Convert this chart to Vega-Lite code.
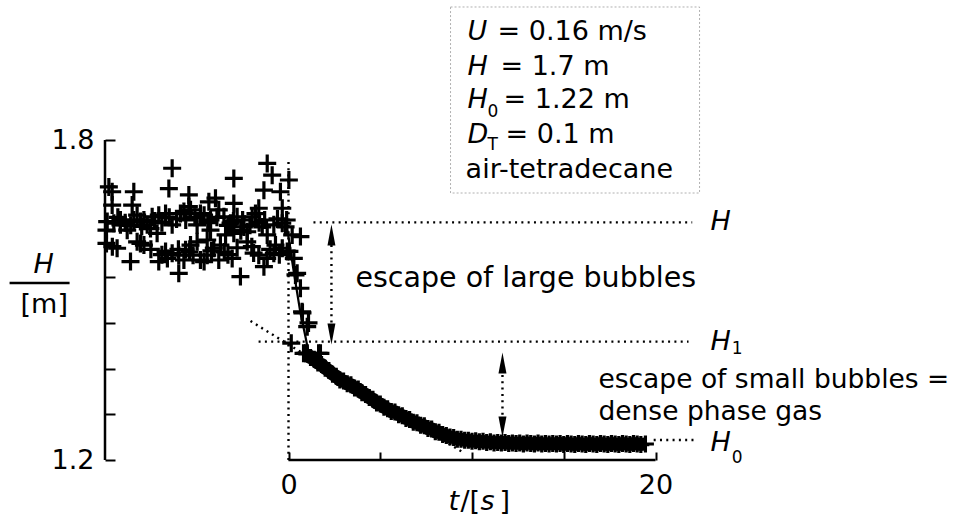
{
  "$schema": "https://vega.github.io/schema/vega-lite/v6.json",
  "width": 871,
  "height": 460,
  "autosize": {"type": "none"},
  "padding": {"left": 105, "top": 0, "right": 0, "bottom": 55},
  "background": "white",
  "config": {"view": {"stroke": null}},
  "datasets": {
    "box": [{"t": 8.83, "t2": 22.4, "h": 2.0494, "h2": 1.7006}],
    "dotted": [
      {"t": 1.36, "t2": 22.0, "h": 1.6456, "h2": 1.6456},
      {"t": -1.63, "t2": 21.8, "h": 1.4219, "h2": 1.4219},
      {"t": 19.9, "t2": 22.3, "h": 1.2375, "h2": 1.2375},
      {"t": 0, "t2": 0, "h": 1.2, "h2": 1.766},
      {"t": -2.07, "t2": 9.48, "h": 1.4606, "h2": 1.215},
      {"t": 2.34, "t2": 2.34, "h": 1.6031, "h2": 1.4563},
      {"t": 11.66, "t2": 11.66, "h": 1.3594, "h2": 1.275}
    ],
    "solid": [
      {"t": -10, "t2": -10, "h": 1.2, "h2": 1.8},
      {"t": 0, "t2": 20, "h": 1.2, "h2": 1.2},
      {"t": -15.2, "t2": -11.93, "h": 1.5319, "h2": 1.5319}
    ],
    "scatter": [
      {"t": -6.34, "h": 1.747}, {"t": -2.98, "h": 1.728}, {"t": -1.16, "h": 1.756}, {"t": -0.89, "h": 1.734},
      {"t": 0.02, "h": 1.725}, {"t": -6.52, "h": 1.709}, {"t": -8.43, "h": 1.703}, {"t": -1.34, "h": 1.706},
      {"t": -0.44, "h": 1.703}, {"t": -5.43, "h": 1.697}, {"t": -9.79, "h": 1.712}, {"t": -9.61, "h": 1.703},
      {"t": -3.98, "h": 1.691}, {"t": -9.61, "h": 1.678}, {"t": -8.52, "h": 1.678}, {"t": -2.98, "h": 1.681},
      {"t": -4.34, "h": 1.684}, {"t": -0.34, "h": 1.672}, {"t": -5.43, "h": 1.675}, {"t": -1.62, "h": 1.672},
      {"t": -5.70, "h": 1.666},
      {"t": -9.52, "h": 1.644}, {"t": -9.16, "h": 1.641}, {"t": -8.79, "h": 1.631}, {"t": -8.25, "h": 1.659},
      {"t": -8.07, "h": 1.647}, {"t": -7.70, "h": 1.641}, {"t": -7.43, "h": 1.656}, {"t": -7.07, "h": 1.659},
      {"t": -6.70, "h": 1.662}, {"t": -7.52, "h": 1.634}, {"t": -7.16, "h": 1.625}, {"t": -6.34, "h": 1.641},
      {"t": -5.89, "h": 1.662}, {"t": -4.98, "h": 1.641}, {"t": -4.80, "h": 1.662}, {"t": -4.25, "h": 1.650},
      {"t": -3.80, "h": 1.669}, {"t": -3.52, "h": 1.656}, {"t": -3.16, "h": 1.644}, {"t": -2.80, "h": 1.656},
      {"t": -2.43, "h": 1.637}, {"t": -1.98, "h": 1.656}, {"t": -1.80, "h": 1.662}, {"t": -2.25, "h": 1.628},
      {"t": -2.98, "h": 1.625}, {"t": -3.43, "h": 1.622}, {"t": -1.43, "h": 1.637}, {"t": -1.16, "h": 1.622},
      {"t": -0.80, "h": 1.641}, {"t": -0.34, "h": 1.644}, {"t": -0.16, "h": 1.637}, {"t": -9.92, "h": 1.631},
      {"t": -9.88, "h": 1.647}, {"t": -9.16, "h": 1.650}, {"t": -8.43, "h": 1.650}, {"t": -7.88, "h": 1.650},
      {"t": -5.34, "h": 1.669}, {"t": -4.6, "h": 1.659}, {"t": -2.5, "h": 1.650}, {"t": -4.25, "h": 1.631},
      {"t": -6.9, "h": 1.645}, {"t": -6.1, "h": 1.652}, {"t": -3.3, "h": 1.640}, {"t": -1.6, "h": 1.645},
      {"t": -8.6, "h": 1.640},
      {"t": -9.3, "h": 1.655}, {"t": -8.9, "h": 1.645}, {"t": -8.0, "h": 1.638}, {"t": -7.3, "h": 1.648},
      {"t": -6.5, "h": 1.655}, {"t": -5.6, "h": 1.650}, {"t": -5.1, "h": 1.655}, {"t": -4.4, "h": 1.645},
      {"t": -3.9, "h": 1.655}, {"t": -3.0, "h": 1.648}, {"t": -2.6, "h": 1.630}, {"t": -2.1, "h": 1.640},
      {"t": -1.3, "h": 1.650}, {"t": -0.6, "h": 1.652}, {"t": -0.1, "h": 1.650},
      {"t": -9.92, "h": 1.606}, {"t": -9.34, "h": 1.597}, {"t": -8.61, "h": 1.572}, {"t": -8.25, "h": 1.609},
      {"t": -7.88, "h": 1.603}, {"t": -7.07, "h": 1.572}, {"t": -6.70, "h": 1.591}, {"t": -6.34, "h": 1.5875},
      {"t": -5.98, "h": 1.584}, {"t": -5.98, "h": 1.55}, {"t": -5.61, "h": 1.594}, {"t": -5.34, "h": 1.603},
      {"t": -4.98, "h": 1.609}, {"t": -4.80, "h": 1.575}, {"t": -4.43, "h": 1.584}, {"t": -4.43, "h": 1.6125},
      {"t": -4.07, "h": 1.597}, {"t": -3.80, "h": 1.575}, {"t": -3.71, "h": 1.603}, {"t": -3.07, "h": 1.578},
      {"t": -2.62, "h": 1.544}, {"t": -2.25, "h": 1.609}, {"t": -1.62, "h": 1.584}, {"t": -1.34, "h": 1.5625},
      {"t": -1.16, "h": 1.578}, {"t": -0.80, "h": 1.5875}, {"t": -0.71, "h": 1.603}, {"t": -0.34, "h": 1.597},
      {"t": -0.07, "h": 1.591}, {"t": -6.6, "h": 1.578}, {"t": -5.7, "h": 1.575}, {"t": -5.2, "h": 1.584},
      {"t": -4.6, "h": 1.572}, {"t": -8.07, "h": 1.606}, {"t": -3.5, "h": 1.590}, {"t": -2.0, "h": 1.600},
      {"t": -9.6, "h": 1.600}, {"t": -7.5, "h": 1.595}, {"t": -6.9, "h": 1.585}, {"t": -6.0, "h": 1.595},
      {"t": -5.4, "h": 1.590}, {"t": -4.2, "h": 1.592}, {"t": -3.3, "h": 1.585}, {"t": -2.8, "h": 1.598},
      {"t": -1.9, "h": 1.588}, {"t": -1.0, "h": 1.595}, {"t": -0.5, "h": 1.585},
      {"t": 0.20, "h": 1.622}, {"t": 0.65, "h": 1.619}, {"t": 0.05, "h": 1.591}, {"t": 0.29, "h": 1.578},
      {"t": 0.47, "h": 1.55}, {"t": 0.65, "h": 1.522}, {"t": 0.74, "h": 1.478}, {"t": 1.02, "h": 1.45},
      {"t": 1.02, "h": 1.40}, {"t": 0.15, "h": 1.419}, {"t": 0.38, "h": 1.547}, {"t": 1.09, "h": 1.457},
      {"t": 0.93, "h": 1.40}, {"t": 1.64, "h": 1.40}, {"t": 0.76, "h": 1.476}, {"t": 1.74, "h": 1.40},
      {"t": 0.82, "h": 1.40}
    ],
    "band": [
      {"t": 1.0, "h": 1.399}, {"t": 1.2, "h": 1.392}, {"t": 1.4, "h": 1.389}, {"t": 1.6, "h": 1.382},
      {"t": 1.8, "h": 1.379}, {"t": 2.0, "h": 1.372}, {"t": 2.2, "h": 1.368}, {"t": 2.4, "h": 1.361},
      {"t": 2.6, "h": 1.357}, {"t": 2.8, "h": 1.350}, {"t": 3.0, "h": 1.348}, {"t": 3.2, "h": 1.343},
      {"t": 3.4, "h": 1.341}, {"t": 3.6, "h": 1.335}, {"t": 3.8, "h": 1.333}, {"t": 4.0, "h": 1.326},
      {"t": 4.2, "h": 1.323}, {"t": 4.4, "h": 1.317}, {"t": 4.6, "h": 1.314}, {"t": 4.8, "h": 1.307},
      {"t": 5.0, "h": 1.305}, {"t": 5.2, "h": 1.299}, {"t": 5.4, "h": 1.296}, {"t": 5.6, "h": 1.291},
      {"t": 5.8, "h": 1.290}, {"t": 6.0, "h": 1.285}, {"t": 6.2, "h": 1.283}, {"t": 6.4, "h": 1.278},
      {"t": 6.6, "h": 1.276}, {"t": 6.8, "h": 1.271}, {"t": 7.0, "h": 1.270}, {"t": 7.2, "h": 1.265},
      {"t": 7.4, "h": 1.264}, {"t": 7.6, "h": 1.259}, {"t": 7.8, "h": 1.258}, {"t": 8.0, "h": 1.253},
      {"t": 8.2, "h": 1.252}, {"t": 8.4, "h": 1.248}, {"t": 8.6, "h": 1.246}, {"t": 8.8, "h": 1.243},
      {"t": 9.0, "h": 1.242}, {"t": 9.2, "h": 1.239}, {"t": 9.4, "h": 1.239}, {"t": 9.6, "h": 1.237},
      {"t": 9.8, "h": 1.237}, {"t": 10.0, "h": 1.235}, {"t": 10.2, "h": 1.236}, {"t": 10.4, "h": 1.234},
      {"t": 10.6, "h": 1.235}, {"t": 10.8, "h": 1.233}, {"t": 11.0, "h": 1.234}, {"t": 11.2, "h": 1.232},
      {"t": 11.4, "h": 1.233}, {"t": 11.6, "h": 1.232}, {"t": 11.8, "h": 1.233}, {"t": 12.0, "h": 1.231},
      {"t": 12.2, "h": 1.232}, {"t": 12.4, "h": 1.231}, {"t": 12.6, "h": 1.232}, {"t": 12.8, "h": 1.230},
      {"t": 13.0, "h": 1.232}, {"t": 13.2, "h": 1.231}, {"t": 13.4, "h": 1.230}, {"t": 13.6, "h": 1.232},
      {"t": 13.8, "h": 1.230}, {"t": 14.0, "h": 1.231}, {"t": 14.2, "h": 1.230}, {"t": 14.4, "h": 1.231},
      {"t": 14.6, "h": 1.230}, {"t": 14.8, "h": 1.231}, {"t": 15.0, "h": 1.229}, {"t": 15.2, "h": 1.231},
      {"t": 15.4, "h": 1.230}, {"t": 15.6, "h": 1.229}, {"t": 15.8, "h": 1.231}, {"t": 16.0, "h": 1.230},
      {"t": 16.2, "h": 1.229}, {"t": 16.4, "h": 1.231}, {"t": 16.6, "h": 1.230}, {"t": 16.8, "h": 1.229},
      {"t": 17.0, "h": 1.231}, {"t": 17.2, "h": 1.230}, {"t": 17.4, "h": 1.229}, {"t": 17.6, "h": 1.231},
      {"t": 17.8, "h": 1.230}, {"t": 18.0, "h": 1.229}, {"t": 18.2, "h": 1.231}, {"t": 18.4, "h": 1.230},
      {"t": 18.6, "h": 1.229}, {"t": 18.8, "h": 1.231}, {"t": 19.0, "h": 1.230}, {"t": 19.2, "h": 1.229},
      {"t": 19.45, "h": 1.230}
    ],
    "fit": [
      {"t": -0.07, "h": 1.634}, {"t": 0.3, "h": 1.55}, {"t": 0.65, "h": 1.476},
      {"t": 0.93, "h": 1.43}, {"t": 1.1, "h": 1.40}, {"t": 1.4, "h": 1.388}
    ],
    "arrowUp": [{"t": 2.34, "h": 1.6219}, {"t": 11.66, "h": 1.3819}],
    "arrowDown": [{"t": 2.34, "h": 1.4363}, {"t": 11.66, "h": 1.2619}],
    "textNormal": [
      {"t": 11.39, "h": 1.9875, "label": "= 0.16 m/s"},
      {"t": 11.55, "h": 1.9219, "label": "= 1.7 m"},
      {"t": 11.72, "h": 1.86, "label": "= 1.22 m"},
      {"t": 11.83, "h": 1.7944, "label": "= 0.1 m"},
      {"t": 9.65, "h": 1.7288, "label": "air-tetradecane"},
      {"t": 9.37, "h": 1.1062, "label": "/["},
      {"t": 11.5, "h": 1.1062, "label": "]"},
      {"t": -14.6, "h": 1.4756, "label": "[m]"}
    ],
    "textSmallBubbles": [
      {"t": 16.89, "h": 1.3341, "label": "escape of small bubbles ="},
      {"t": 16.89, "h": 1.2759, "label": "dense phase gas"}
    ],
    "textLarge": [
      {"t": 3.65, "h": 1.525, "label": "escape of large bubbles"}
    ],
    "textItalic": [
      {"t": 9.75, "h": 1.9875, "label": "U"},
      {"t": 9.75, "h": 1.9219, "label": "H"},
      {"t": 9.75, "h": 1.86, "label": "H"},
      {"t": 9.75, "h": 1.7944, "label": "D"},
      {"t": 23.0, "h": 1.6313, "label": "H"},
      {"t": 23.0, "h": 1.4063, "label": "H"},
      {"t": 23.0, "h": 1.2169, "label": "H"},
      {"t": -13.9, "h": 1.5506, "label": "H"},
      {"t": 8.72, "h": 1.1062, "label": "t"},
      {"t": 10.46, "h": 1.1062, "label": "s"}
    ],
    "textSub": [
      {"t": 10.84, "h": 1.8431, "label": "0"},
      {"t": 10.84, "h": 1.781, "label": "T"},
      {"t": 24.15, "h": 1.399, "label": "1"},
      {"t": 24.15, "h": 1.1944, "label": "0"}
    ]
  },
  "layer": [
    {
      "data": {"name": "box"},
      "mark": {"type": "rect", "fill": "white", "stroke": "#b0b0b0", "strokeWidth": 1, "strokeDash": [2, 2]},
      "encoding": {
        "x": {
          "field": "t", "type": "quantitative",
          "scale": {"domain": [-10, 37.465], "nice": false, "zero": false},
          "axis": {
            "values": [0, 5, 10, 15, 20],
            "labelExpr": "datum.value == 0 ? '0' : datum.value == 20 ? '20' : ''",
            "domain": false, "grid": false,
            "tickSize": -8, "tickWidth": 2, "tickColor": "black",
            "labelFont": "DejaVu Sans", "labelFontSize": 27, "labelColor": "black",
            "labelPadding": 20, "labelFlush": false, "labelOverlap": false,
            "title": null
          }
        },
        "x2": {"field": "t2"},
        "y": {
          "field": "h", "type": "quantitative",
          "scale": {"domain": [1.2, 2.0625], "nice": false, "zero": false},
          "axis": {
            "values": [1.2, 1.2857, 1.3714, 1.4571, 1.5429, 1.6286, 1.7143, 1.8],
            "labelExpr": "datum.value == 1.2 ? '1.2' : datum.value == 1.8 ? '1.8' : ''",
            "domain": false, "grid": false,
            "tickSize": -10, "tickWidth": 2, "tickColor": "black",
            "labelFont": "DejaVu Sans", "labelFontSize": 27, "labelColor": "black",
            "labelPadding": 21, "labelFlush": false, "labelOverlap": false,
            "title": null
          }
        },
        "y2": {"field": "h2"}
      }
    },
    {
      "data": {"name": "dotted"},
      "mark": {"type": "rule", "color": "black", "strokeWidth": 2.4, "strokeDash": [2, 4.3]},
      "encoding": {
        "x": {"field": "t", "type": "quantitative"},
        "x2": {"field": "t2"},
        "y": {"field": "h", "type": "quantitative"},
        "y2": {"field": "h2"}
      }
    },
    {
      "data": {"name": "solid"},
      "mark": {"type": "rule", "color": "black", "strokeWidth": 2.5},
      "encoding": {
        "x": {"field": "t", "type": "quantitative"},
        "x2": {"field": "t2"},
        "y": {"field": "h", "type": "quantitative"},
        "y2": {"field": "h2"}
      }
    },
    {
      "data": {"name": "band"},
      "mark": {"type": "line", "color": "black", "strokeWidth": 13, "strokeCap": "butt"},
      "encoding": {
        "x": {"field": "t", "type": "quantitative"},
        "y": {"field": "h", "type": "quantitative"}
      }
    },
    {
      "data": {"name": "scatter"},
      "mark": {"type": "point", "shape": "M-1,0H1M0,-1V1", "size": 324, "filled": false, "color": "black", "strokeWidth": 3.2, "opacity": 1},
      "encoding": {
        "x": {"field": "t", "type": "quantitative"},
        "y": {"field": "h", "type": "quantitative"}
      }
    },
    {
      "data": {"name": "band"},
      "mark": {"type": "point", "shape": "M-1,0H1M0,-1V1", "size": 289, "filled": false, "color": "black", "strokeWidth": 3.2, "opacity": 1},
      "encoding": {
        "x": {"field": "t", "type": "quantitative"},
        "y": {"field": "h", "type": "quantitative"}
      }
    },
    {
      "data": {"name": "fit"},
      "mark": {"type": "line", "color": "black", "strokeWidth": 2.2},
      "encoding": {
        "x": {"field": "t", "type": "quantitative"},
        "y": {"field": "h", "type": "quantitative"}
      }
    },
    {
      "data": {"name": "arrowUp"},
      "mark": {"type": "point", "shape": "M0,-1L0.38,1L-0.38,1Z", "size": 441, "filled": true, "color": "black", "opacity": 1},
      "encoding": {
        "x": {"field": "t", "type": "quantitative"},
        "y": {"field": "h", "type": "quantitative"}
      }
    },
    {
      "data": {"name": "arrowDown"},
      "mark": {"type": "point", "shape": "M0,1L0.38,-1L-0.38,-1Z", "size": 441, "filled": true, "color": "black", "opacity": 1},
      "encoding": {
        "x": {"field": "t", "type": "quantitative"},
        "y": {"field": "h", "type": "quantitative"}
      }
    },
    {
      "data": {"name": "textNormal"},
      "mark": {"type": "text", "align": "left", "baseline": "alphabetic", "font": "DejaVu Sans", "fontSize": 27, "color": "black"},
      "encoding": {
        "x": {"field": "t", "type": "quantitative"},
        "y": {"field": "h", "type": "quantitative"},
        "text": {"field": "label"}
      }
    },
    {
      "data": {"name": "textSmallBubbles"},
      "mark": {"type": "text", "align": "left", "baseline": "alphabetic", "font": "DejaVu Sans", "fontSize": 26.5, "color": "black"},
      "encoding": {
        "x": {"field": "t", "type": "quantitative"},
        "y": {"field": "h", "type": "quantitative"},
        "text": {"field": "label"}
      }
    },
    {
      "data": {"name": "textLarge"},
      "mark": {"type": "text", "align": "left", "baseline": "alphabetic", "font": "DejaVu Sans", "fontSize": 28.5, "color": "black"},
      "encoding": {
        "x": {"field": "t", "type": "quantitative"},
        "y": {"field": "h", "type": "quantitative"},
        "text": {"field": "label"}
      }
    },
    {
      "data": {"name": "textItalic"},
      "mark": {"type": "text", "align": "left", "baseline": "alphabetic", "font": "DejaVu Sans", "fontStyle": "italic", "fontSize": 27, "color": "black"},
      "encoding": {
        "x": {"field": "t", "type": "quantitative"},
        "y": {"field": "h", "type": "quantitative"},
        "text": {"field": "label"}
      }
    },
    {
      "data": {"name": "textSub"},
      "mark": {"type": "text", "align": "left", "baseline": "alphabetic", "font": "DejaVu Sans", "fontSize": 17, "color": "black"},
      "encoding": {
        "x": {"field": "t", "type": "quantitative"},
        "y": {"field": "h", "type": "quantitative"},
        "text": {"field": "label"}
      }
    }
  ]
}
